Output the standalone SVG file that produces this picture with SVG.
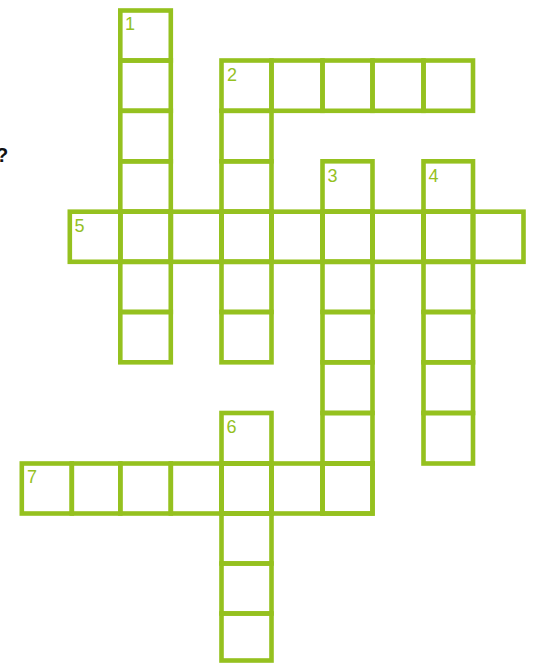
<svg xmlns="http://www.w3.org/2000/svg" width="535" height="664" viewBox="0 0 535 664">
<style>
.c{fill:none;stroke:#95c11f;stroke-width:4.6}
.n{font-family:"Liberation Sans",Arial,sans-serif;font-size:18px;fill:#95c11f}
.q{font-family:"Liberation Sans",Arial,sans-serif;font-size:20px;font-weight:bold;fill:#111}
</style>
<rect width="535" height="664" fill="#fff"/>
<text class="q" x="-4" y="162">?</text>
<g id="word1">
<rect class="c" x="120.3" y="10.5" width="50.5" height="50"/>
<rect class="c" x="120.3" y="60.5" width="50.5" height="50.3"/>
<rect class="c" x="120.3" y="110.8" width="50.5" height="50.5"/>
<rect class="c" x="120.3" y="161.3" width="50.5" height="50.4"/>
<rect class="c" x="120.3" y="211.7" width="50.5" height="50.1"/>
<rect class="c" x="120.3" y="261.8" width="50.5" height="50.2"/>
<rect class="c" x="120.3" y="312" width="50.5" height="50.3"/>
<text class="n" x="125" y="30">1</text>
</g>
<g id="word2">
<rect class="c" x="221.5" y="60.5" width="50" height="50.3"/>
<rect class="c" x="271.5" y="60.5" width="51" height="50.3"/>
<rect class="c" x="322.5" y="60.5" width="50" height="50.3"/>
<rect class="c" x="372.5" y="60.5" width="51" height="50.3"/>
<rect class="c" x="423.5" y="60.5" width="49.5" height="50.3"/>
<rect class="c" x="221.5" y="110.8" width="50" height="50.5"/>
<rect class="c" x="221.5" y="161.3" width="50" height="50.4"/>
<rect class="c" x="221.5" y="211.7" width="50" height="50.1"/>
<rect class="c" x="221.5" y="261.8" width="50" height="50.2"/>
<rect class="c" x="221.5" y="312" width="50" height="50.3"/>
<text class="n" x="227" y="81">2</text>
</g>
<g id="word3">
<rect class="c" x="322.5" y="161.3" width="50" height="50.4"/>
<rect class="c" x="322.5" y="211.7" width="50" height="50.1"/>
<rect class="c" x="322.5" y="261.8" width="50" height="50.2"/>
<rect class="c" x="322.5" y="312" width="50" height="50.3"/>
<rect class="c" x="322.5" y="362.3" width="50" height="50.7"/>
<rect class="c" x="322.5" y="413" width="50" height="50.5"/>
<rect class="c" x="322.5" y="463.5" width="50" height="50"/>
<text class="n" x="327.5" y="181.5">3</text>
</g>
<g id="word4">
<rect class="c" x="423.5" y="161.3" width="49.5" height="50.4"/>
<rect class="c" x="423.5" y="211.7" width="49.5" height="50.1"/>
<rect class="c" x="423.5" y="261.8" width="49.5" height="50.2"/>
<rect class="c" x="423.5" y="312" width="49.5" height="50.3"/>
<rect class="c" x="423.5" y="362.3" width="49.5" height="50.7"/>
<rect class="c" x="423.5" y="413" width="49.5" height="50.5"/>
<text class="n" x="428.5" y="181.5">4</text>
</g>
<g id="word5">
<rect class="c" x="69.8" y="211.7" width="50.5" height="50.1"/>
<rect class="c" x="120.3" y="211.7" width="50.5" height="50.1"/>
<rect class="c" x="170.8" y="211.7" width="50.7" height="50.1"/>
<rect class="c" x="221.5" y="211.7" width="50" height="50.1"/>
<rect class="c" x="271.5" y="211.7" width="51" height="50.1"/>
<rect class="c" x="322.5" y="211.7" width="50" height="50.1"/>
<rect class="c" x="372.5" y="211.7" width="51" height="50.1"/>
<rect class="c" x="423.5" y="211.7" width="49.5" height="50.1"/>
<rect class="c" x="473" y="211.7" width="50.5" height="50.1"/>
<text class="n" x="74.5" y="232">5</text>
</g>
<g id="word6">
<rect class="c" x="221.5" y="413" width="50" height="50.5"/>
<rect class="c" x="221.5" y="463.5" width="50" height="50"/>
<rect class="c" x="221.5" y="513.5" width="50" height="50"/>
<rect class="c" x="221.5" y="563.5" width="50" height="50"/>
<rect class="c" x="221.5" y="613.5" width="50" height="47"/>
<text class="n" x="226.5" y="433">6</text>
</g>
<g id="word7">
<rect class="c" x="21.8" y="463.5" width="50" height="50"/>
<rect class="c" x="71.8" y="463.5" width="48.5" height="50"/>
<rect class="c" x="120.3" y="463.5" width="50.5" height="50"/>
<rect class="c" x="170.8" y="463.5" width="50.7" height="50"/>
<rect class="c" x="221.5" y="463.5" width="50" height="50"/>
<rect class="c" x="271.5" y="463.5" width="51" height="50"/>
<rect class="c" x="322.5" y="463.5" width="50" height="50"/>
<text class="n" x="27" y="483">7</text>
</g>
</svg>
